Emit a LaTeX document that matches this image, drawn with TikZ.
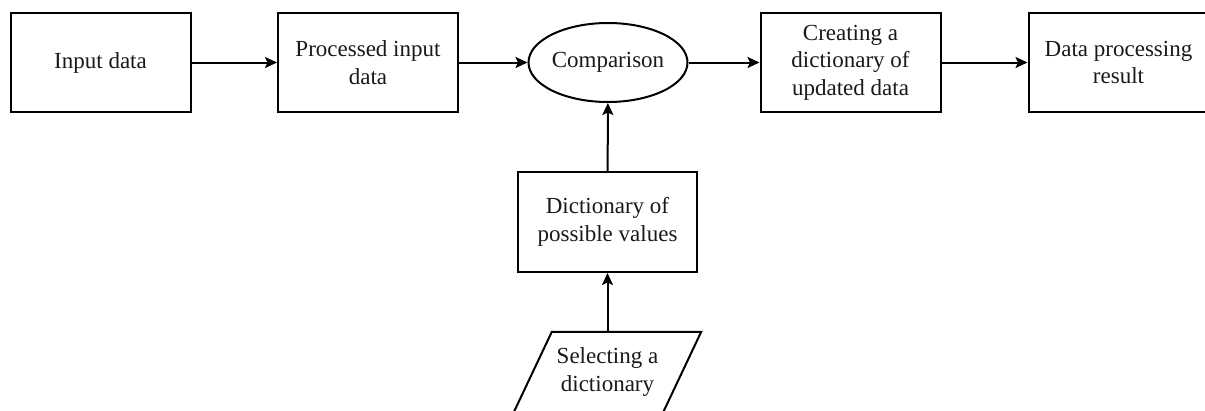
\documentclass[tikz,border=0pt]{standalone}
\usepackage{fontspec}
\setmainfont{Liberation Serif}
\usetikzlibrary{shapes.geometric,arrows.meta}
\begin{document}
\begin{tikzpicture}[x=1pt,y=-1pt,
  every node/.style={font=\fontsize{23}{27.5}\selectfont, text=black!90, align=center, inner sep=0pt},
  box/.style={draw, line width=2pt, minimum width=180pt, minimum height=99pt},
  oval/.style={draw, ellipse, line width=2pt, minimum width=146pt, minimum height=79pt},
  link/.style={line width=2pt, -{Stealth[length=12pt,width=11pt,inset=2.5pt]}}]
  \useasboundingbox (0,0) rectangle (1205,410);

  % main row
  \node[box] (in)  at (100.5,62.5) {Input data};
  \node[box] (proc) at (368,62.5) {Processed input\\data};
  \node[oval] (cmp) at (608,62.5) {Comparison};
  \node[box] (cre) at (850.5,62.5) {Creating a\\dictionary of\\updated data};
  \node[box] (res) at (1118.5,62.5) {Data processing\\result};

  % lower branch
  \node[box, minimum width=179pt, minimum height=100pt] (dict) at (607.5,222) {Dictionary of\\possible values};
  \node[minimum width=149pt, minimum height=80pt] (sel) at (607.5,372) {Selecting a\\dictionary};
  \draw[line width=2pt]
    ([xshift=19pt]sel.north west) -- ([xshift=19pt]sel.north east)
    -- ([xshift=-19pt]sel.south east) -- ([xshift=-19pt]sel.south west) -- cycle;

  % connectors
  \draw[link] (in) -- (proc);
  \draw[link] (proc) -- (cmp);
  \draw[link] (cmp) -- (cre);
  \draw[link] (cre) -- (res);
  \draw[link] (dict) -- (cmp);
  \draw[link] (sel.north) -- (dict.south);
\end{tikzpicture}
\end{document}
